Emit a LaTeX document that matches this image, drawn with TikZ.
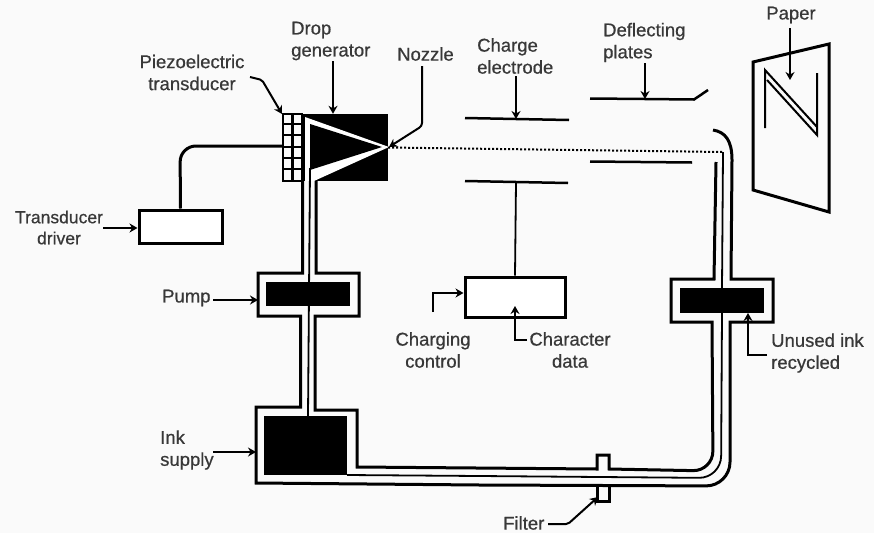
\documentclass[tikz,border=0pt]{standalone}
\usepackage{fontspec}
\setmainfont{Liberation Sans}[RawFeature={embolden=0.6}]
\usetikzlibrary{arrows.meta}

\begin{document}
\begin{tikzpicture}[
  x=1pt,y=-1pt,
  box/.style={draw,line width=3pt,inner sep=0pt,fill=white},
  solid block/.style={fill=black,inner sep=0pt},
  caption/.style={font=\fontsize{18.5}{22}\selectfont,text=black!78,inner sep=0pt,align=center},
  caption left/.style={caption,align=left,anchor=west},
  tube/.style={line width=3pt,line join=miter},
  core/.style={line width=1.8pt},
  plate/.style={line width=2.5pt},
  route/.style={-{Stealth[length=8pt,width=9pt]},line width=2pt}
]
  \useasboundingbox (0,0) rectangle (874,533);
  \fill[black!2] (0,0) rectangle (874,533);

  % ink tube, outer walls
  \draw[tube] (302.5,181) -- (302.5,273) -- (258,273) -- (258,316) -- (300.5,316) -- (300.5,407)
    -- (256,407) -- (256,483) -- (480,485) [rounded corners=24pt] -- (730,486) [sharp corners]
    -- (730,322) -- (773,322) -- (773,279) -- (731,279) -- (732,160) .. controls (732,140) and (725,132) .. (713,130);
  \draw[tube] (316,181) -- (316,273) -- (359,273) -- (359,316) -- (315,316) -- (315,410)
    -- (357,410) -- (357,467) -- (597,469) -- (597,455) -- (609,455) -- (609,469) [rounded corners=20pt]
    -- (713,471) [sharp corners] -- (712,322) -- (671,322) -- (671,279) -- (714,279) -- (716,162);
  \draw[tube] (597,486) -- (597,501) -- (609,501) -- (609,486);

  \node[solid block,minimum width=84pt,minimum height=24pt] (pump) at (308,294) {};
  \node[solid block,minimum width=83pt,minimum height=59pt] (supply) at (305.5,445.5) {};
  \node[solid block,minimum width=84pt,minimum height=25pt] (recycler) at (722,300.5) {};
  \node[solid block,minimum width=86pt,minimum height=67pt] (dropgen) at (345,147.5) {};

  % nozzle
  \fill[white] (305,117) -- (389,147) -- (314,181) -- (305,181) -- cycle;
  \fill (310,124) -- (382,147) -- (310,170) -- cycle;

  % tube centre line
  \draw[core] (310,168) -- (308,416);
  \draw[core] (347,475) -- (480,476) [rounded corners=22pt] -- (721,478) [sharp corners] -- (722,313);
  \draw[core] (722,288) -- (723,152);

  % transducer
  \draw[line width=2.4pt] (283,114) rectangle (302,181);
  \draw[line width=2.4pt] (292.5,114) -- (292.5,181);
  \foreach \gridy in {124,135,147,158,169}
    \draw[line width=2.4pt] (283,\gridy) -- (302,\gridy);
  \coordinate (pzt) at (283,146);

  \node[box,minimum width=83pt,minimum height=33pt] (driver) at (180.5,226.5) {};
  \node[box,minimum width=100pt,minimum height=40pt] (chardata) at (515,297) {};

  % electrodes and plates
  \draw[plate] (465,118) -- (516,119) coordinate (chargetop) -- (569,120);
  \draw[plate] (465,181) -- (516,182) coordinate (chargelow) -- (568,183);
  \draw[plate] (590,98.5) -- (645,99) coordinate (deflecttop) -- (694,99.5) -- (708,90);
  \draw[plate] (590,161.5) -- (692,162.5);
  \draw[line width=2pt,dash pattern=on 2pt off 2pt] (dropgen.east) -- (723,152);

  % paper
  \draw[line width=3pt,line join=miter] (753,62) -- (829,44) -- (829,212) -- (753,190) -- cycle;
  \draw[line width=2pt] (765,128) -- (765,70) -- (817,127);
  \draw[line width=2pt] (767,80) -- (817,135) -- (817,73);
  \coordinate (scan) at (790,80);

  % captions
  \node[caption] (paperlabel) at (791,15) {Paper};
  \node[caption left] (deflectlabel) at (603,42.5) {Deflecting\\plates};
  \node[caption left] (chargelabel) at (477,56) {Charge\\electrode};
  \node[caption left] (nozzlelabel) at (397,54) {Nozzle};
  \node[caption left] (droplabel) at (291,41) {Drop\\generator};
  \node[caption] (pztlabel) at (192,72.5) {Piezoelectric\\transducer};
  \node[caption,font=\fontsize{17.5}{21}\selectfont] (driverlabel) at (59,227.5) {Transducer\\driver};
  \node[caption left] (pumplabel) at (162,298) {Pump};
  \node[caption left] (supplylabel) at (160,450) {Ink\\supply};
  \node[caption] (controllabel) at (433,350) {Charging\\control};
  \node[caption] (datalabel) at (570,350) {Character\\data};
  \node[caption left] (unusedlabel) at (771,353) {Unused ink\\recycled};
  \node[caption left] (filterlabel) at (503,523) {Filter};

  % connectors
  \draw[line width=3pt,rounded corners=16pt] (driver.north) -- (180,146) -- (pzt);
  \draw[line width=1.8pt] (chargelow) -- (chardata.north);
  \draw[route] (645,63) -- (deflecttop);
  \draw[route] (516,76) -- (chargetop);
  \draw[route] (790,28) -- (scan);
  \draw[route] (333,61) -- (dropgen.north -| 333,0);
  \draw[route,rounded corners=2pt] (250,77) -- (262,80) -- (282,114);
  \draw[route,rounded corners=3pt] (422,66) -- (422,126) -- (389,147);
  \draw[route] (103,228) -- (driver.west |- 0,228);
  \draw[route] (213,300) -- (258,300);
  \draw[route] (213,452) -- (256,452);
  \draw[route] (433,312) -- (433,293) -- (chardata.west |- 0,293);
  \draw[route] (527,340) -- (515,340) -- (515,306);
  \draw[route] (767,355) -- (748,355) -- (748,313);
  \draw[route,rounded corners=2pt] (548,524) -- (568,524) -- (598,497);
\end{tikzpicture}
\end{document}
